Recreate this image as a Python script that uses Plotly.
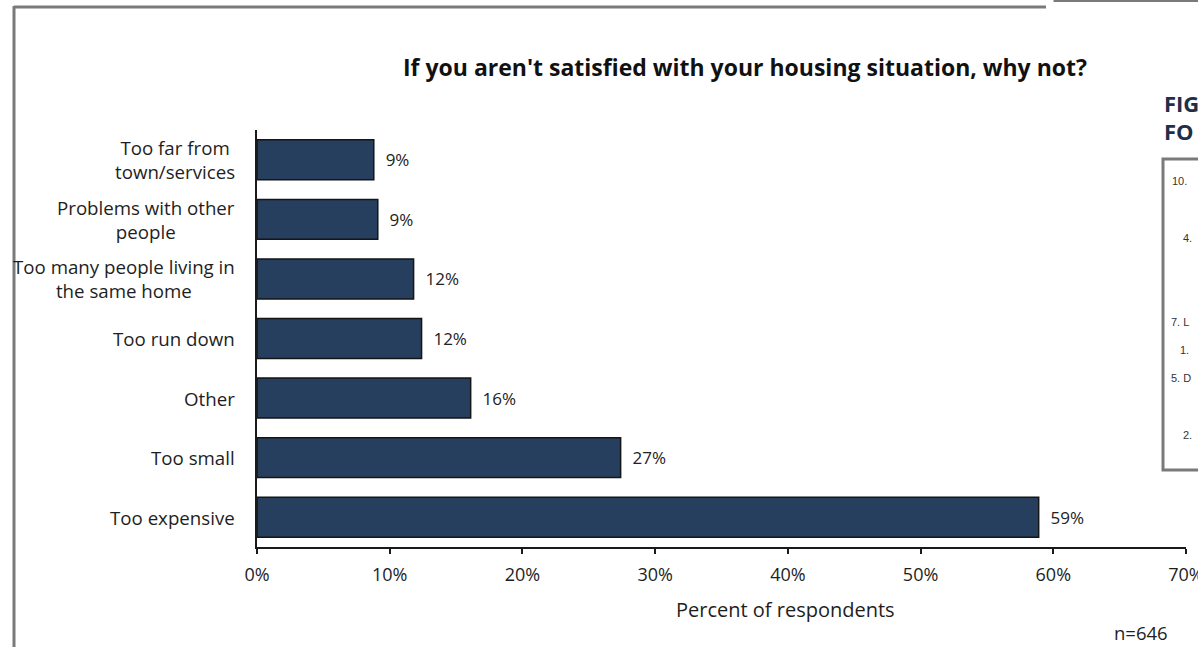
import plotly.graph_objects as go

# Data (bottom to top)
categories = [
    "Too expensive",
    "Too small",
    "Other",
    "Too run down",
    "Too many people living in<br>the same home",
    "Problems with other<br>people",
    "Too far from<br>town/services",
]
values = [58.9, 27.4, 16.1, 12.4, 11.8, 9.1, 8.8]
x_ticks = [0, 10, 20, 30, 40, 50, 60, 70]
x_tick_labels = ["0%", "10%", "20%", "30%", "40%", "50%", "60%", "70%"]

FONT = "Open Sans"
W, H = 1198, 647
L, R, T, B = 257, 1186, 130, 547  # plot area in pixels


def px(xp):
    return (xp - L) / (R - L)


def py(yp):
    return (B - yp) / (B - T)


fig = go.Figure()
fig.add_trace(go.Bar(
    x=values,
    y=categories,
    orientation="h",
    width=0.67,
    marker=dict(color="#273F5E", line=dict(color="#151515", width=1.5)),
    text=[f"{v:.0f}%" for v in values],
    texttemplate="  %{text}",
    textposition="outside",
    textfont=dict(family=FONT, size=17, color="#222222"),
    cliponaxis=False,
    hoverinfo="skip",
))

annotations = []
# category labels, centered multi-line, right edge near axis
for c in categories:
    annotations.append(dict(
        x=0, xref="paper", y=c, yref="y", xanchor="right", yanchor="middle",
        xshift=-20, align="center", showarrow=False, text=c,
        font=dict(family=FONT, size=18.7, color="#1E1E1E"),
    ))

# title
annotations.append(dict(
    x=px(745), xref="paper", y=py(67), yref="paper", xanchor="center", yanchor="middle",
    showarrow=False, text="<b>If you aren't satisfied with your housing situation, why not?</b>",
    font=dict(family=FONT, size=23, color="#111111"),
))
# axis title
annotations.append(dict(
    x=px(785), xref="paper", y=py(609), yref="paper", xanchor="center", yanchor="middle",
    showarrow=False, text="Percent of respondents",
    font=dict(family=FONT, size=20, color="#1E1E1E"),
))
# n
annotations.append(dict(
    x=px(1141), xref="paper", y=py(632), yref="paper", xanchor="center", yanchor="middle",
    showarrow=False, text="n=646",
    font=dict(family=FONT, size=18.5, color="#1E1E1E"),
))
# right-side cropped figure elements
for txt, yy in [("<b>FIG</b>", 103), ("<b>FO</b>", 131)]:
    annotations.append(dict(
        x=px(1162), xref="paper", y=py(yy), yref="paper", xanchor="left", yanchor="middle",
        showarrow=False, text=txt, font=dict(family=FONT, size=22, color="#1F2F4A"),
    ))
for txt, xx, yy in [("10.", 1170, 181), ("4.", 1181, 238), ("7. L", 1169, 322),
                    ("1.", 1178, 350), ("5. D", 1169, 378), ("2.", 1181, 435)]:
    annotations.append(dict(
        x=px(xx), xref="paper", y=py(yy), yref="paper", xanchor="left", yanchor="middle",
        showarrow=False, text=txt, font=dict(family="Liberation Sans", size=11, color="#333333"),
    ))

shapes = [
    # outer frame (top and left)
    dict(type="line", xref="paper", yref="paper", x0=px(14), x1=px(1046), y0=py(7), y1=py(7),
         line=dict(color="#7A7A7A", width=3)),
    dict(type="line", xref="paper", yref="paper", x0=px(14), x1=px(14), y0=py(6), y1=py(660),
         line=dict(color="#7A7A7A", width=3)),
    dict(type="line", xref="paper", yref="paper", x0=px(1054), x1=px(1210), y0=py(1), y1=py(1),
         line=dict(color="#7A7A7A", width=2)),
    dict(type="line", xref="paper", yref="paper", x0=px(1054), x1=px(1054), y0=py(-5), y1=py(2),
         line=dict(color="#7A7A7A", width=1)),
    # right box
    dict(type="rect", xref="paper", yref="paper", x0=px(1163), x1=px(1215), y0=py(159), y1=py(470),
         line=dict(color="#7A7A7A", width=3)),
]

fig.update_layout(
    width=W, height=H,
    margin=dict(l=L, r=W - R, t=T, b=H - B, pad=0, autoexpand=False),
    paper_bgcolor="white", plot_bgcolor="white",
    showlegend=False,
    bargap=0.33,
    annotations=annotations,
    shapes=shapes,
    xaxis=dict(
        range=[0, 70], tickvals=x_ticks, ticktext=x_tick_labels,
        showgrid=False, zeroline=False, showline=True, linecolor="#1A1A1A", linewidth=1.5,
        ticks="outside", ticklen=5, tickcolor="#1A1A1A", tickwidth=1.5,
        tickfont=dict(family=FONT, size=18, color="#1E1E1E"),
        ticklabelstandoff=6, ticklabeloverflow="allow", automargin=False,
        fixedrange=True,
    ),
    yaxis=dict(
        categoryorder="array", categoryarray=categories, range=[-0.5, 6.5],
        showticklabels=False, showgrid=False, zeroline=False, automargin=False,
        showline=True, linecolor="#1A1A1A", linewidth=1.5, ticks="",
        fixedrange=True,
    ),
)

fig.write_html("out.html")
